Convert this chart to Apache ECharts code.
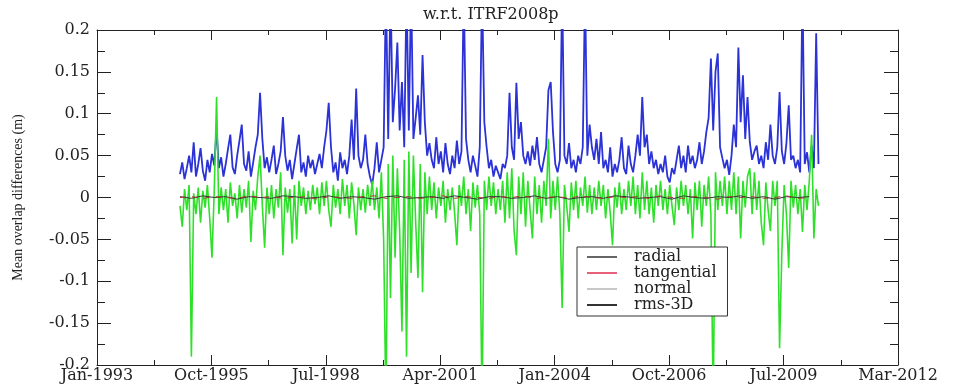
<!DOCTYPE html>
<html>
<head>
<meta charset="utf-8">
<script src="https://cdn.jsdelivr.net/npm/echarts@6/dist/echarts.min.js"></script>
<style>
  html, body { margin: 0; padding: 0; background: #fff; }
  #chart { width: 959px; height: 384px; }
</style>
</head>
<body>
<div id="chart"></div>
<script>
// x axis is in days since Jan-1993, labels every 1000 days
const xTickLabels = ['Jan-1993', 'Oct-1995', 'Jul-1998', 'Apr-2001', 'Jan-2004', 'Oct-2006', 'Jul-2009', 'Mar-2012']
const yTickLabels = ['-0.2', '-0.15', '-0.1', '-0.05', '0', '0.05', '0.1', '0.15', '0.2']

// sampling of the overlap series (every 20 days from day 725)
const sampleStart = 725
const sampleStep = 20

// rms-3D (blue)
const rms3d = [
  0.028, 0.042, 0.022, 0.035, 0.05, 0.03, 0.066, 0.025, 0.04, 0.059, 0.032, 0.02, 0.045, 0.03, 0.052, 0.038, 0.083, 0.035, 0.048, 0.025,
  0.04, 0.058, 0.075, 0.036, 0.028, 0.05, 0.068, 0.087, 0.04, 0.032, 0.055, 0.025, 0.042, 0.06, 0.075, 0.125, 0.07, 0.035, 0.048, 0.03,
  0.045, 0.062, 0.028, 0.04, 0.055, 0.096, 0.05, 0.032, 0.045, 0.022, 0.04, 0.058, 0.075, 0.03, 0.042, 0.025, 0.05, 0.035, 0.045, 0.028,
  0.04, 0.052, 0.035, 0.06, 0.08, 0.113, 0.06, 0.03, 0.042, 0.02, 0.054, 0.035, 0.045, 0.028, 0.05, 0.093, 0.045, 0.13, 0.05, 0.035,
  0.045, 0.075, 0.04, 0.025, 0.015, 0.035, 0.066, 0.03, 0.045, 0.06, 0.25, 0.07, 0.25, 0.09, 0.13, 0.185, 0.08, 0.138, 0.06, 0.25,
  0.08, 0.25, 0.07, 0.095, 0.122, 0.075, 0.17, 0.09, 0.05, 0.065, 0.045, 0.035, 0.072, 0.04, 0.055, 0.03, 0.065, 0.04, 0.028, 0.05,
  0.035, 0.068, 0.04, 0.055, 0.25, 0.07, 0.045, 0.03, 0.05, 0.038, 0.025, 0.06, 0.25, 0.09, 0.06, 0.035, 0.045, 0.025, 0.038, 0.03,
  0.022, 0.04, 0.035, 0.05, 0.125, 0.06, 0.045, 0.137, 0.07, 0.09, 0.05, 0.04, 0.055, 0.038, 0.062, 0.045, 0.072, 0.04, 0.03, 0.045,
  0.06, 0.128, 0.138, 0.078, 0.04, 0.03, 0.045, 0.25, 0.05, 0.04, 0.065, 0.035, 0.045, 0.03, 0.05, 0.04, 0.06, 0.25, 0.05, 0.087,
  0.06, 0.045, 0.07, 0.04, 0.078, 0.035, 0.045, 0.03, 0.06, 0.025, 0.04, 0.03, 0.045, 0.072, 0.035, 0.028, 0.062, 0.04, 0.03, 0.05,
  0.075, 0.05, 0.12, 0.06, 0.075, 0.04, 0.055, 0.035, 0.045, 0.028, 0.04, 0.03, 0.05, 0.025, 0.018, 0.035, 0.028, 0.045, 0.062, 0.035,
  0.05, 0.03, 0.062, 0.04, 0.05, 0.035, 0.045, 0.066, 0.04, 0.055, 0.078, 0.095, 0.166, 0.08, 0.15, 0.172, 0.06, 0.047, 0.035, 0.045,
  0.027, 0.05, 0.087, 0.06, 0.179, 0.09, 0.146, 0.07, 0.12, 0.066, 0.045, 0.055, 0.062, 0.04, 0.05, 0.035, 0.066, 0.045, 0.087, 0.05,
  0.04, 0.06, 0.126, 0.055, 0.04, 0.065, 0.11, 0.045, 0.05, 0.035, 0.045, 0.03, 0.25, 0.04, 0.054, 0.03, 0.062, 0.035, 0.196, 0.04
]

// normal (green)
const normal = [
  -0.01, -0.035, 0.01, -0.015, 0.015, -0.19, 0.005, -0.02, 0.012, -0.03, 0.008, -0.012, 0.015, -0.025, -0.072, 0.01, 0.12, -0.02, 0.012, -0.015,
  0.01, -0.03, 0.018, -0.01, 0.005, -0.025, 0.015, -0.018, 0.01, -0.012, 0.02, -0.053, 0.008, -0.015, 0.025, 0.05, -0.01, -0.06, 0.012, -0.02,
  0.015, -0.025, 0.01, -0.012, 0.03, -0.069, 0.012, -0.018, 0.01, -0.055, 0.015, -0.05, 0.02, -0.01, 0.012, -0.02, 0.008, -0.015, 0.015, -0.008,
  0.012, -0.02, 0.018, -0.01, 0.02, -0.015, -0.035, 0.015, -0.012, 0.01, -0.02, 0.022, -0.01, 0.015, -0.025, 0.018, -0.008, -0.045, 0.012, -0.015,
  0.01, -0.018, 0.015, -0.01, 0.02, -0.015, 0.012, -0.025, 0.03, -0.05, -0.25, 0.04, -0.12, 0.05, -0.072, 0.035, -0.04, -0.16, 0.045, -0.19,
  0.055, -0.09, 0.05, -0.03, -0.096, 0.04, -0.113, 0.03, -0.02, 0.025, -0.015, 0.018, -0.025, 0.012, -0.01, 0.02, -0.03, 0.01, -0.015, 0.012,
  -0.018, -0.057, 0.015, -0.01, 0.025, -0.02, 0.01, -0.04, 0.018, -0.012, 0.015, -0.02, -0.25, 0.02, -0.015, 0.025, -0.01, 0.018, -0.02, 0.01,
  -0.015, 0.02, -0.03, 0.03, -0.025, 0.035, -0.04, -0.069, 0.025, -0.02, 0.03, -0.035, 0.02, -0.015, -0.049, 0.025, -0.02, 0.015, -0.03, 0.02,
  -0.01, 0.07, -0.025, 0.02, -0.015, 0.025, -0.02, -0.132, 0.015, -0.01, -0.041, 0.018, -0.015, 0.02, -0.025, 0.012, -0.01, 0.025, -0.018, 0.015,
  -0.02, 0.012, -0.015, 0.02, -0.01, 0.015, -0.025, 0.01, -0.018, -0.057, 0.012, -0.012, 0.018, -0.02, 0.01, -0.015, 0.02, -0.01, 0.025, -0.02,
  0.015, -0.025, 0.03, -0.015, 0.02, -0.02, 0.012, -0.03, 0.015, -0.01, 0.02, -0.015, 0.01, -0.02, 0.015, -0.01, -0.033, 0.012, -0.015, 0.02,
  -0.01, 0.015, -0.02, 0.01, -0.049, 0.018, -0.015, 0.02, -0.035, 0.015, -0.01, 0.025, -0.02, -0.25, 0.03, -0.015, 0.02, -0.01, 0.025, -0.02,
  0.02, -0.015, 0.03, -0.02, 0.025, -0.049, 0.02, -0.012, 0.025, 0.035, -0.02, 0.03, -0.015, 0.02, -0.03, -0.057, 0.018, -0.015, -0.04, 0.02,
  -0.01, 0.02, -0.18, -0.065, 0.015, -0.02, -0.084, 0.02, -0.012, 0.015, -0.02, 0.01, -0.041, 0.015, -0.015, 0.02, 0.075, -0.049, 0.01, -0.01
]

// radial and tangential stay close to zero (every 100 days from day 725)
const nearStart = 725
const nearStep = 100
const radial = [
  0.001, -0.001, 0.002, 0, 0.001, -0.002, 0.001, 0, -0.001, 0.002, 0.001, -0.001, 0, 0.002, -0.001, 0.001, 0, -0.002, 0.001, 0.002,
  -0.001, 0, 0.001, -0.001, 0.002, 0, -0.002, 0.001, 0.001, -0.001, 0, 0.002, -0.001, 0.001, -0.002, 0, 0.001, -0.001, 0.002, 0.001,
  -0.001, 0, 0.001, -0.002, 0.002, 0, -0.001, 0.001, 0, 0.002, -0.001, 0.001, -0.002, 0.001, 0, 0.001
]
const tangential = [
  0, 0.001, -0.001, 0.001, 0, -0.001, 0.002, 0, 0.001, -0.001, 0, 0.001, -0.002, 0.001, 0, -0.001, 0.001, 0.002, -0.001, 0,
  0.001, -0.001, 0, 0.002, -0.001, 0.001, 0, -0.001, 0.001, 0, 0.002, -0.001, 0, 0.001, -0.001, 0.002, 0, -0.001, 0.001, 0,
  0.001, -0.001, 0.002, 0, -0.001, 0.001, 0, -0.002, 0.001, 0, 0.001, -0.001, 0, 0.002, -0.001, 0
]

const toPairs = (vals, start, step) => vals.map((v, i) => [start + i * step, v])

const serifFont = '"DejaVu Serif", "Liberation Serif", serif'

const frameLine = { show: true, onZero: false, lineStyle: { color: '#222', width: 1 } }
const xTick = { show: true, inside: true, length: 10, lineStyle: { color: '#222' } }
const xMinorTick = { show: true, splitNumber: 2, length: 5, lineStyle: { color: '#222' } }
const yTick = { show: true, inside: true, length: 14, lineStyle: { color: '#222' } }
const yMinorTick = { show: true, splitNumber: 2, length: 8, lineStyle: { color: '#222' } }

const option = {
  animation: false,
  backgroundColor: '#fff',
  title: {
    text: 'w.r.t. ITRF2008p',
    left: 418,
    top: 2,
    textStyle: { fontFamily: serifFont, fontSize: 16, fontWeight: 'normal', color: '#222' },
  },
  grid: { left: 97, right: 61, top: 30, bottom: 19 },
  legend: {
    orient: 'vertical',
    left: 577,
    top: 247,
    padding: [2, 11, 3, 10],
    itemGap: 0,
    itemWidth: 30,
    itemHeight: 2,
    icon: 'rect',
    borderColor: '#333',
    borderWidth: 1,
    backgroundColor: '#fff',
    textStyle: { fontFamily: serifFont, fontSize: 16, lineHeight: 15, color: '#222', padding: [0, 0, 0, 12] },
    data: [
      { name: 'radial', itemStyle: { color: '#666' } },
      { name: 'tangential', itemStyle: { color: '#e8607a' } },
      { name: 'normal', itemStyle: { color: '#c8c8c8' } },
      { name: 'rms-3D', itemStyle: { color: '#333' } },
    ],
  },
  xAxis: [
    {
      type: 'value',
      min: 0,
      max: 7000,
      interval: 1000,
      axisLine: frameLine,
      axisTick: xTick,
      minorTick: xMinorTick,
      splitLine: { show: false },
      axisLabel: {
        fontFamily: serifFont,
        fontSize: 16,
        color: '#222',
        margin: 3,
        formatter: (v) => xTickLabels[Math.round(v / 1000)],
      },
    },
    {
      type: 'value',
      position: 'top',
      min: 0,
      max: 7000,
      interval: 1000,
      axisLine: frameLine,
      axisTick: xTick,
      minorTick: xMinorTick,
      splitLine: { show: false },
      axisLabel: { show: false },
    },
  ],
  yAxis: [
    {
      type: 'value',
      min: -0.2,
      max: 0.2,
      interval: 0.05,
      name: 'Mean overlap differences (m)',
      nameLocation: 'middle',
      nameGap: 72,
      nameTextStyle: { fontFamily: '"Liberation Serif", serif', fontSize: 14, color: '#222' },
      axisLine: frameLine,
      axisTick: yTick,
      minorTick: yMinorTick,
      splitLine: { show: false },
      axisLabel: {
        fontFamily: serifFont,
        fontSize: 16,
        color: '#222',
        margin: 7,
        formatter: (v) => yTickLabels[Math.round((v + 0.2) / 0.05)],
      },
    },
    {
      type: 'value',
      position: 'right',
      min: -0.2,
      max: 0.2,
      interval: 0.05,
      axisLine: frameLine,
      axisTick: yTick,
      minorTick: yMinorTick,
      splitLine: { show: false },
      axisLabel: { show: false },
    },
  ],
  series: [
    {
      name: 'rms-3D',
      type: 'line',
      data: toPairs(rms3d, sampleStart, sampleStep),
      showSymbol: false,
      symbol: 'none',
      z: 2,
      lineStyle: { color: '#2b32d6', width: 1.8 },
      itemStyle: { color: '#2b32d6' },
    },
    {
      name: 'normal',
      type: 'line',
      data: toPairs(normal, sampleStart, sampleStep),
      showSymbol: false,
      symbol: 'none',
      z: 3,
      lineStyle: { color: '#2fe02a', width: 1.6 },
      itemStyle: { color: '#2fe02a' },
    },
    {
      name: 'radial',
      type: 'line',
      data: toPairs(radial, nearStart, nearStep),
      showSymbol: false,
      symbol: 'none',
      z: 4,
      lineStyle: { color: '#333', width: 1 },
      itemStyle: { color: '#333' },
    },
    {
      name: 'tangential',
      type: 'line',
      data: toPairs(tangential, nearStart, nearStep),
      showSymbol: false,
      symbol: 'none',
      z: 5,
      lineStyle: { color: '#b03030', width: 1, type: [6, 6] },
      itemStyle: { color: '#b03030' },
    },
  ],
}

const c = echarts.init(document.getElementById('chart'))
c.setOption(option)
</script>
</body>
</html>
